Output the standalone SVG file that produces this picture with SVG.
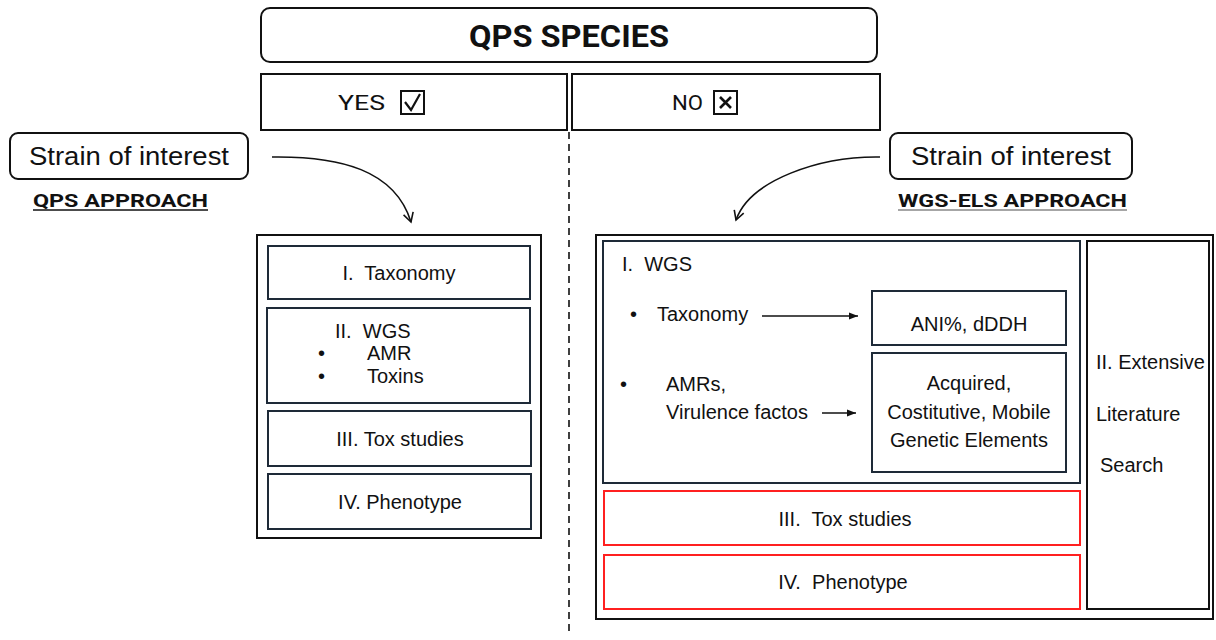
<svg xmlns="http://www.w3.org/2000/svg" width="1216" height="640" viewBox="0 0 1216 640">
<style>
.t{font-family:"Liberation Sans",Arial,sans-serif;fill:#111;font-size:20px;}
.b{fill:#fff;stroke:#111;stroke-width:2;}
.in{fill:#fff;stroke:#1e2a38;stroke-width:2;}
.red{fill:#fff;stroke:#ff2020;stroke-width:2;}
.ttl{font-family:Roboto,"Liberation Sans",sans-serif;font-weight:bold;fill:#111;}
.c{stroke:#111;stroke-width:1.6;fill:none;}
</style>
<defs>
<marker id="open" viewBox="0 0 12 12" refX="10" refY="6" markerWidth="12" markerHeight="12" markerUnits="userSpaceOnUse" orient="auto">
<path d="M1,1 L10,6 L1,11" fill="none" stroke="#111" stroke-width="1.6"/>
</marker>
<marker id="solid" viewBox="0 0 10 10" refX="10" refY="5" markerWidth="9" markerHeight="9" markerUnits="userSpaceOnUse" orient="auto">
<path d="M0,1 L10,5 L0,9 Z" fill="#111"/>
</marker>
</defs>
<rect width="1216" height="640" fill="#fff"/>

<g id="qps-species">
<rect class="b" x="261" y="8" width="616" height="54" rx="9"/>
<text class="ttl" x="569" y="47" font-size="32" text-anchor="middle" textLength="200" lengthAdjust="spacingAndGlyphs">QPS SPECIES</text>
</g>
<g id="yes">
<rect class="b" x="261" y="74" width="306" height="56"/>
<text x="338" y="110" font-family="Roboto,'Liberation Sans',sans-serif" font-size="21" fill="#111" textLength="47" lengthAdjust="spacingAndGlyphs">YES</text>
<rect x="401" y="91" width="23" height="23" fill="#fff" stroke="#111" stroke-width="2"/>
<path d="M405,102 L411,110 L420,94" fill="none" stroke="#111" stroke-width="2.2"/>
</g>
<g id="no">
<rect class="b" x="572" y="74" width="308" height="56"/>
<text x="672" y="110" font-family="Roboto,'Liberation Sans',sans-serif" font-size="21" fill="#111" textLength="31" lengthAdjust="spacingAndGlyphs">NO</text>
<rect x="714" y="91" width="23" height="23" fill="#fff" stroke="#111" stroke-width="2"/>
<path d="M720,97 L731,108 M731,97 L720,108" fill="none" stroke="#111" stroke-width="2.6"/>
</g>

<g id="strain-left">
<rect class="b" x="10" y="133" width="238" height="46" rx="8"/>
<text class="t" x="129" y="165" font-size="26" text-anchor="middle" textLength="200" lengthAdjust="spacingAndGlyphs" style="font-size:26px">Strain of interest</text>
</g>
<g id="qps-approach">
<text class="ttl" x="33" y="207" font-size="19" textLength="175" lengthAdjust="spacingAndGlyphs">QPS APPROACH</text>
<line x1="33" y1="210" x2="208" y2="210" stroke="#111" stroke-width="1.6"/>
</g>
<g id="strain-right">
<rect class="b" x="890" y="133" width="242" height="46" rx="8"/>
<text class="t" x="1011" y="165" text-anchor="middle" textLength="200" lengthAdjust="spacingAndGlyphs" style="font-size:26px">Strain of interest</text>
</g>
<g id="wgs-els-approach">
<text class="ttl" x="898" y="207" font-size="19" textLength="229" lengthAdjust="spacingAndGlyphs">WGS-ELS APPROACH</text>
<line x1="898" y1="210" x2="1127" y2="210" stroke="#888" stroke-width="1.6"/>
</g>

<g id="qps-panel">
<rect class="b" x="257" y="235" width="284" height="303"/>
<g id="qps-taxonomy">
<rect class="in" x="268" y="246" width="262" height="53"/>
<text class="t" x="399" y="280" text-anchor="middle" xml:space="preserve">I.  Taxonomy</text>
</g>
<g id="qps-wgs">
<rect class="in" x="267" y="308" width="263" height="95"/>
<text class="t" x="335" y="338" xml:space="preserve">II.  WGS</text>
<text class="t" x="318" y="360">•</text>
<text class="t" x="367" y="360">AMR</text>
<text class="t" x="318" y="383">•</text>
<text class="t" x="367" y="383">Toxins</text>
</g>
<g id="qps-tox">
<rect class="in" x="268" y="411" width="263" height="55"/>
<text class="t" x="400" y="446" text-anchor="middle">III. Tox studies</text>
</g>
<g id="qps-phenotype">
<rect class="in" x="268" y="474" width="263" height="55"/>
<text class="t" x="400" y="509" text-anchor="middle">IV. Phenotype</text>
</g>
</g>

<g id="wgs-els-panel">
<rect class="b" x="596" y="235" width="617" height="384"/>
<g id="els-wgs">
<rect class="in" x="603" y="241" width="477" height="242"/>
<text class="t" x="622" y="271" xml:space="preserve">I.  WGS</text>
<text class="t" x="630" y="321">•</text>
<text class="t" x="657" y="321">Taxonomy</text>
<text class="t" x="620" y="391">•</text>
<text class="t" x="666" y="391">AMRs,</text>
<text class="t" x="666" y="419">Virulence factos</text>
</g>
<g id="els-ani">
<rect class="in" x="872" y="291" width="194" height="54"/>
<text class="t" x="969" y="331" text-anchor="middle">ANI%, dDDH</text>
</g>
<g id="els-acquired">
<rect class="in" x="872" y="353" width="194" height="119"/>
<text class="t" x="969" y="390" text-anchor="middle">Acquired,</text>
<text class="t" x="969" y="419" text-anchor="middle">Costitutive, Mobile</text>
<text class="t" x="969" y="447" text-anchor="middle">Genetic Elements</text>
</g>
<g id="els-literature">
<rect class="b" x="1087" y="241" width="122" height="368"/>
<text class="t" x="1096" y="369">II. Extensive</text>
<text class="t" x="1096" y="421">Literature</text>
<text class="t" x="1100" y="472">Search</text>
</g>
<g id="els-tox">
<rect class="red" x="604" y="491" width="476" height="54"/>
<text class="t" x="845" y="526" text-anchor="middle" xml:space="preserve">III.  Tox studies</text>
</g>
<g id="els-phenotype">
<rect class="red" x="604" y="555" width="476" height="54"/>
<text class="t" x="843" y="589" text-anchor="middle" xml:space="preserve">IV.  Phenotype</text>
</g>
</g>

<g id="connectors">
<line x1="569" y1="132" x2="569" y2="636" stroke="#111" stroke-width="1.6" stroke-dasharray="7,5"/>
<path class="c" d="M272,157 C340,156 395,170 411,222" marker-end="url(#open)"/>
<path class="c" d="M880,157 C820,156 750,180 736,220" marker-end="url(#open)"/>
<line x1="762" y1="316" x2="858" y2="316" stroke="#111" stroke-width="1.6" marker-end="url(#solid)"/>
<line x1="822" y1="413" x2="856" y2="413" stroke="#111" stroke-width="1.6" marker-end="url(#solid)"/>
</g>
</svg>
